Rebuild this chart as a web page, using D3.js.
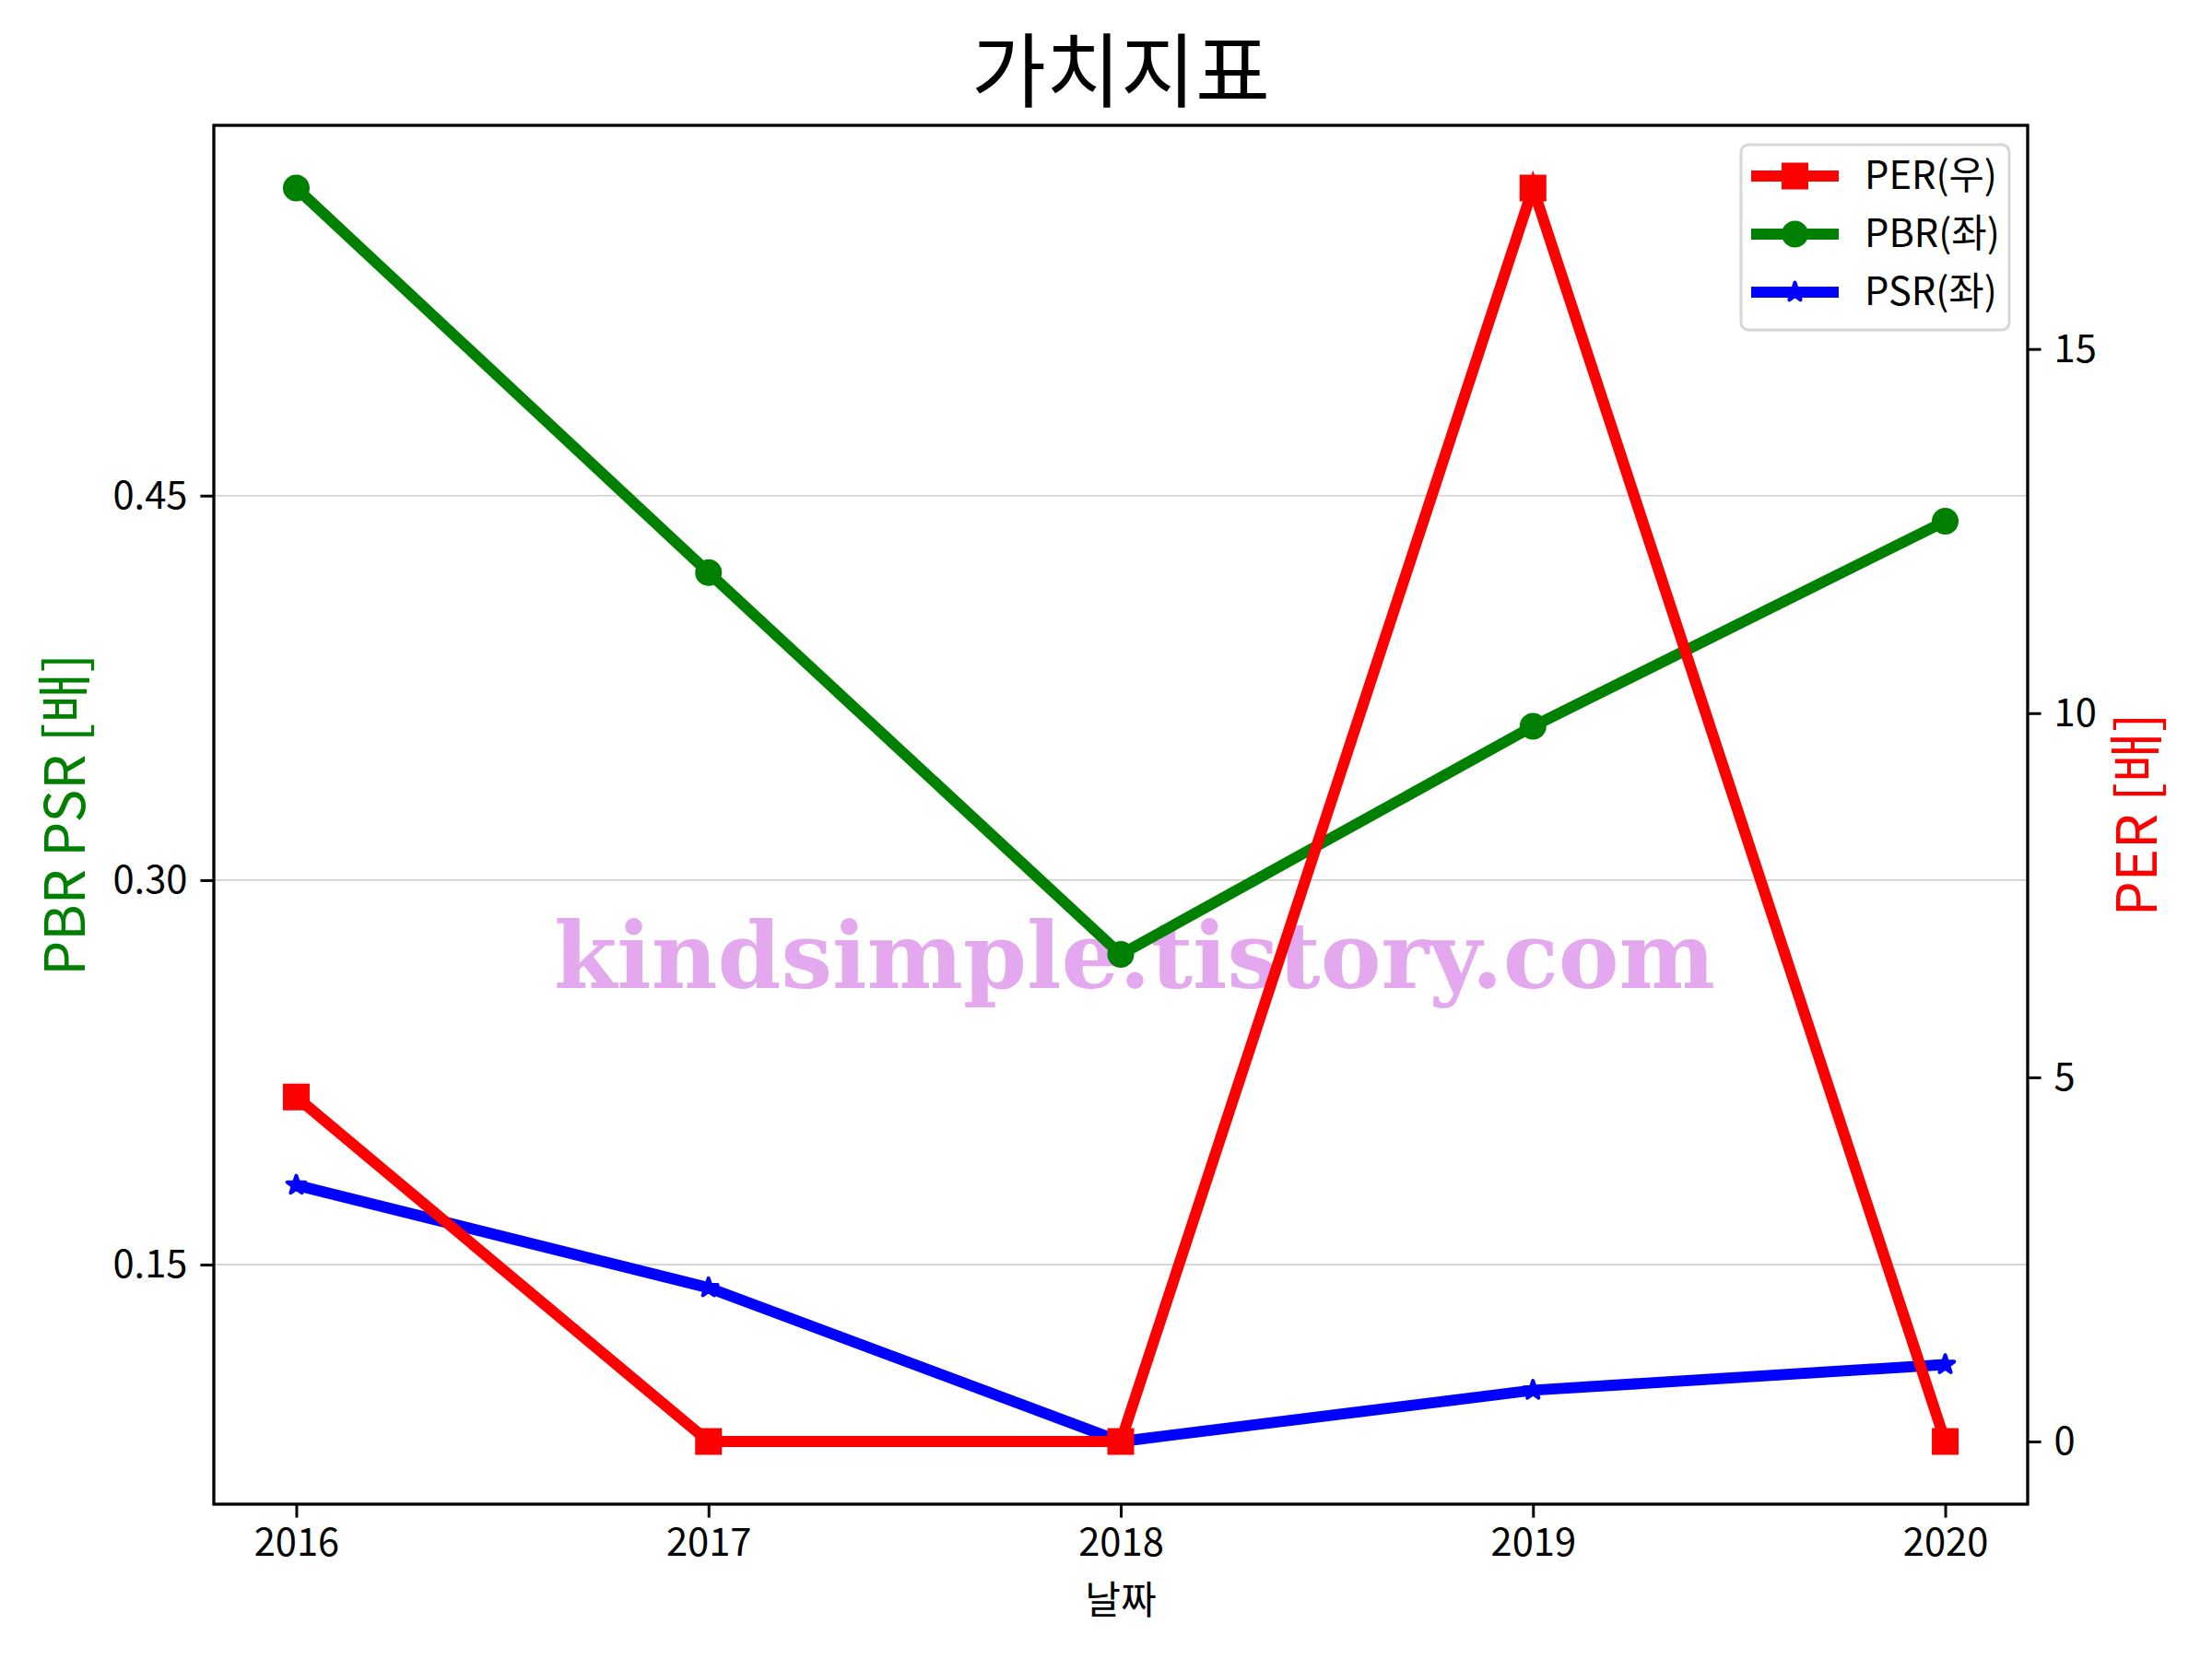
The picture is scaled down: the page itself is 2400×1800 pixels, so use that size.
<!DOCTYPE html>
<html>
<head>
<meta charset="utf-8">
<script src="https://cdn.jsdelivr.net/npm/d3@7"></script>
<style>
  html, body { margin: 0; padding: 0; background: #fff; }
  svg { display: block; }
  text { font-family: "Noto Sans CJK KR", "Noto Sans", sans-serif; }
</style>
</head>
<body>
<svg id="chart" width="2400" height="1800"></svg>
<script>
// ---- data ----
const years = ["2016", "2017", "2018", "2019", "2020"];
const perValues = [4.73, 0, 0, 17.21, 0];          // right axis
const pbrValues = [0.570, 0.420, 0.271, 0.360, 0.440]; // left axis
const psrValues = [0.181, 0.141, 0.081, 0.101, 0.111]; // left axis
const leftTicks = [0.15, 0.30, 0.45];
const rightTicks = [0, 5, 10, 15];
const titleText = "가치지표";
const xLabelText = "날짜";
const leftLabelText = "PBR PSR [배]";
const rightLabelText = "PER [배]";
const watermarkText = "kindsimple.tistory.com";
const legendLabels = ["PER(우)", "PBR(좌)", "PSR(좌)"];

// ---- layout ----
const W = 2400, H = 1800;
const plot = { left: 232, right: 2200, top: 136, bottom: 1632 };
const svg = d3.select("#chart");

function padDomain(vals) {
  const lo = d3.min(vals), hi = d3.max(vals), m = (hi - lo) * 0.05;
  return [lo - m, hi + m];
}

const x = d3.scaleLinear().domain([-0.2, years.length - 1 + 0.2]).range([plot.left, plot.right]);
const yL = d3.scaleLinear().domain(padDomain(pbrValues.concat(psrValues))).range([plot.bottom, plot.top]);
const yR = d3.scaleLinear().domain(padDomain(perValues)).range([plot.bottom, plot.top]);

const tickFont = 41.7;

// gridlines (left axis)
svg.append("g").selectAll("line").data(leftTicks).join("line")
  .attr("x1", plot.left).attr("x2", plot.right)
  .attr("y1", d => yL(d)).attr("y2", d => yL(d))
  .attr("stroke", "#d0d0d0").attr("stroke-width", 1.6);

// watermark
svg.append("text")
  .attr("x", 1231).attr("y", 1072)
  .attr("text-anchor", "middle")
  .attr("textLength", 1260).attr("lengthAdjust", "spacingAndGlyphs")
  .style("font-family", "'DejaVu Serif', serif")
  .style("font-weight", "bold")
  .style("font-size", "100px")
  .attr("fill", "#e3a8ee")
  .text(watermarkText);

// lines
const lw = 12;
function drawSeries(vals, yScale, color) {
  const line = d3.line().x((d, i) => x(i)).y(d => yScale(d));
  svg.append("path").datum(vals)
    .attr("d", line).attr("fill", "none")
    .attr("stroke", color).attr("stroke-width", lw)
    .attr("stroke-linejoin", "miter").attr("stroke-linecap", "butt");
}
function drawMarkers(vals, yScale, color, type) {
  const g = svg.append("g");
  vals.forEach((v, i) => {
    const cx = x(i), cy = yScale(v);
    if (type === "square") {
      g.append("rect").attr("x", cx - 14.5).attr("y", cy - 14.5)
        .attr("width", 29).attr("height", 29).attr("fill", color);
    } else if (type === "circle") {
      g.append("circle").attr("cx", cx).attr("cy", cy).attr("r", 14.5).attr("fill", color);
    } else {
      g.append("path").attr("d", d3.symbol(d3.symbolStar, 120)())
        .attr("transform", `translate(${cx},${cy})`)
        .attr("fill", color).attr("stroke", color)
        .attr("stroke-width", 4).attr("stroke-linejoin", "round");
    }
  });
}

drawSeries(pbrValues, yL, "#008000");
drawMarkers(pbrValues, yL, "#008000", "circle");
drawSeries(psrValues, yL, "#0000ff");
drawMarkers(psrValues, yL, "#0000ff", "star");
drawSeries(perValues, yR, "#ff0000");
drawMarkers(perValues, yR, "#ff0000", "square");

// axes
function styleAxis(g) {
  g.select(".domain").remove();
  g.selectAll(".tick line").attr("stroke", "#000").attr("stroke-width", 3);
  g.selectAll(".tick text").attr("fill", "#000")
    .style("font-size", tickFont + "px")
    .style("font-family", "'Noto Sans CJK KR', 'Noto Sans', sans-serif");
}

svg.append("g").attr("transform", `translate(0,${plot.bottom})`)
  .call(d3.axisBottom(x).tickValues(d3.range(years.length)).tickFormat(i => years[i])
    .tickSize(14.6).tickPadding(12))
  .call(styleAxis);

svg.append("g").attr("transform", `translate(${plot.left},0)`)
  .call(d3.axisLeft(yL).tickValues(leftTicks).tickFormat(d3.format(".2f"))
    .tickSize(14.6).tickPadding(14))
  .call(styleAxis);

svg.append("g").attr("transform", `translate(${plot.right},0)`)
  .call(d3.axisRight(yR).tickValues(rightTicks).tickFormat(d3.format("d"))
    .tickSize(14.6).tickPadding(14))
  .call(styleAxis);

// frame
svg.append("rect")
  .attr("x", plot.left).attr("y", plot.top)
  .attr("width", plot.right - plot.left).attr("height", plot.bottom - plot.top)
  .attr("fill", "none").attr("stroke", "#000").attr("stroke-width", 3.3);

// title
svg.append("text").attr("x", (plot.left + plot.right) / 2).attr("y", 109)
  .attr("text-anchor", "middle").style("font-size", "88px").attr("fill", "#000")
  .text(titleText);

// x label
svg.append("text").attr("x", (plot.left + plot.right) / 2).attr("y", 1751)
  .attr("text-anchor", "middle").style("font-size", "42px").attr("fill", "#000")
  .text(xLabelText);

// y labels
const midY = (plot.top + plot.bottom) / 2;
svg.append("text")
  .attr("transform", `translate(92,${midY}) rotate(-90)`)
  .attr("text-anchor", "middle").style("font-size", "60px").attr("fill", "#008000")
  .text(leftLabelText);
svg.append("text")
  .attr("transform", `translate(2340,${midY}) rotate(-90)`)
  .attr("text-anchor", "middle").style("font-size", "60px").attr("fill", "#ff0000")
  .text(rightLabelText);

// legend
const legend = svg.append("g");
legend.append("rect")
  .attr("x", 1889).attr("y", 157).attr("width", 291).attr("height", 201)
  .attr("rx", 8).attr("fill", "rgba(255,255,255,0.8)")
  .attr("stroke", "#d6d6d6").attr("stroke-width", 3);
const legItems = [
  { label: legendLabels[0], color: "#ff0000", type: "square" },
  { label: legendLabels[1], color: "#008000", type: "circle" },
  { label: legendLabels[2], color: "#0000ff", type: "star" }
];
legItems.forEach((it, i) => {
  const cy = 191 + i * 63;
  legend.append("line").attr("x1", 1900).attr("x2", 1995).attr("y1", cy).attr("y2", cy)
    .attr("stroke", it.color).attr("stroke-width", lw);
  const cx = 1947.5;
  if (it.type === "square") {
    legend.append("rect").attr("x", cx - 14.5).attr("y", cy - 14.5).attr("width", 29).attr("height", 29).attr("fill", it.color);
  } else if (it.type === "circle") {
    legend.append("circle").attr("cx", cx).attr("cy", cy).attr("r", 14.5).attr("fill", it.color);
  } else {
    legend.append("path").attr("d", d3.symbol(d3.symbolStar, 120)())
      .attr("transform", `translate(${cx},${cy})`)
      .attr("fill", it.color).attr("stroke", it.color).attr("stroke-width", 4).attr("stroke-linejoin", "round");
  }
  legend.append("text").attr("x", 2023).attr("y", cy + 14)
    .style("font-size", tickFont + "px").attr("fill", "#000").text(it.label);
});
</script>
</body>
</html>
